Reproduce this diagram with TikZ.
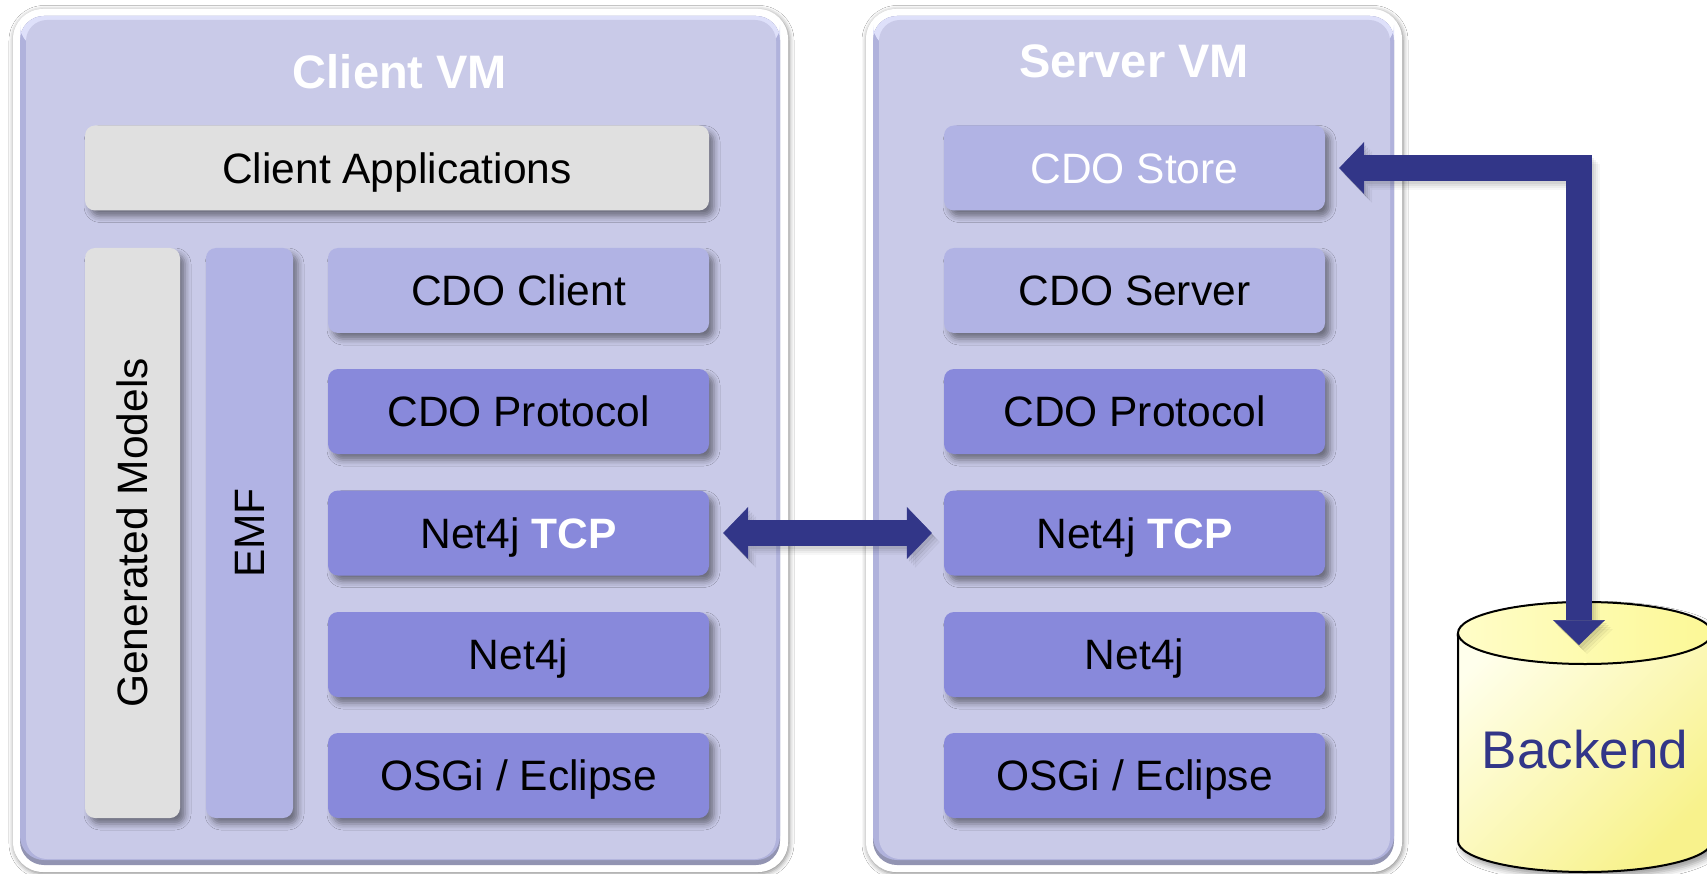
\documentclass[tikz,border=0pt]{standalone}
\usepackage{fontspec}
\setmainfont{Liberation Sans}
\usetikzlibrary{arrows.meta,shadows.blur,calc}

\definecolor{panel}{RGB}{201,202,232}
\definecolor{paneledge}{RGB}{176,178,220}
\definecolor{paneldark}{RGB}{146,148,178}
\definecolor{panelhi}{RGB}{222,224,250}
\definecolor{greybox}{RGB}{224,224,224}
\definecolor{lightbox}{RGB}{177,179,228}
\definecolor{darkbox}{RGB}{136,137,219}
\definecolor{navy}{RGB}{50,54,136}
\definecolor{dbA}{RGB}{255,255,236}
\definecolor{dbB}{RGB}{248,242,140}
\definecolor{dbtopA}{RGB}{255,253,200}
\definecolor{dbtopB}{RGB}{252,248,150}

\newcommand\boxfont{\fontsize{42.5pt}{50pt}\selectfont}
\newcommand\titlefont{\fontsize{47pt}{55pt}\selectfont\bfseries}
\newcommand\dbfont{\fontsize{53pt}{60pt}\selectfont}

\newcommand\vmpanel[4]{%
  \fill[white, rounded corners=30pt,
        blur shadow={shadow xshift=1pt,shadow yshift=-1.5pt,shadow blur radius=5pt,shadow opacity=50}]
        (#1,#2) rectangle (#3,#4);
  \fill[paneldark, rounded corners=24pt] (#1+7,#2+7) rectangle (#3-8,#4-7);
  \fill[paneledge, rounded corners=24pt] (#1+7,#2+7) rectangle (#3-8,#4-12);
  \fill[panelhi, rounded corners=24pt] (#1+7,#2+7) rectangle (#3-8,#2+40);
  \fill[panel, rounded corners=21pt] (#1+13,#2+11) rectangle (#3-12,#4-13);
}

\tikzset{
  cbox/.style={rounded corners=10pt, minimum width=381pt, minimum height=85pt,
    inner sep=0pt, text height=30.4pt, text depth=0pt, font=\boxfont,
    blur shadow={shadow xshift=5pt,shadow yshift=-6pt,shadow blur radius=6pt,shadow opacity=45}},
  greyb/.style={cbox, fill=greybox},
  lightb/.style={cbox, fill=lightbox},
  darkb/.style={cbox, fill=darkbox},
  vtext/.style={rotate=90, inner sep=0pt, text height=30.4pt, text depth=0pt, font=\boxfont},
  vmtitle/.style={anchor=base, inner sep=0pt, text=white, font=\titlefont},
  bigarrow/.style={draw=navy, line width=26pt, line join=miter,
    {Triangle[length=25pt,width=52pt,line width=0.5pt]}-{Triangle[length=25pt,width=52pt,line width=0.5pt]}},
  arrowshade/.style={draw=black, opacity=#1, line width=26pt, line join=miter,
    {Triangle[length=25pt,width=52pt,line width=0.5pt]}-{Triangle[length=25pt,width=52pt,line width=0.5pt]}}
}

\begin{document}
\begin{tikzpicture}[x=1pt,y=-1pt]
\useasboundingbox (0,0) rectangle (1707,874);
\fill[white] (0,0) rectangle (1707,874);

% panels
\vmpanel{13}{9}{788}{872}
\vmpanel{866}{9}{1402}{872}

\node[vmtitle] (ctitle) at (400,88.5) {Client VM};
\node[vmtitle] (stitle) at (1134,78) {Server VM};

% client side
\node[greyb, minimum width=624pt] (capps) at (397,168) {Client Applications};
\node[greyb, minimum width=95pt, minimum height=570pt] (gm) at (132.5,533) {};
\node[vtext] (gmtext) at (gm.center) {Generated Models};
\node[lightb, minimum width=87pt, minimum height=570pt] (emf) at (249.5,533) {};
\node[vtext] (emftext) at (emf.center) {EMF};
\node[lightb] (cclient) at (518.5,290.5) {CDO Client};
\node[darkb] (cproto) at (518.5,411.5) {CDO Protocol};
\node[darkb] (ctcp) at (518.5,533) {Net4j \textcolor{white}{\bfseries TCP}};
\node[darkb] (cnet) at (518.5,654.5) {Net4j};
\node[darkb] (cosgi) at (518.5,775.5) {OSGi / Eclipse};

% server side
\node[lightb, text=white] (store) at (1134.5,168) {CDO Store};
\node[lightb] (sserver) at (1134.5,290.5) {CDO Server};
\node[darkb] (sproto) at (1134.5,411.5) {CDO Protocol};
\node[darkb] (stcp) at (1134.5,533) {Net4j \textcolor{white}{\bfseries TCP}};
\node[darkb] (snet) at (1134.5,654.5) {Net4j};
\node[darkb] (sosgi) at (1134.5,775.5) {OSGi / Eclipse};

% backend cylinder
\path[blur shadow={shadow xshift=4pt,shadow yshift=-5pt,shadow blur radius=6pt,shadow opacity=40},
      shading=axis, top color=dbA, bottom color=dbB, shading angle=45]
  (1458,633) -- (1458,841) arc[start angle=180, end angle=0, x radius=127, y radius=31]
  -- (1712,633) arc[start angle=0, end angle=-180, x radius=127, y radius=31] -- cycle;
\draw[black, line width=2pt]
  (1458,633) -- (1458,841) arc[start angle=180, end angle=0, x radius=127, y radius=31]
  -- (1712,633);
\shade[left color=dbtopA, right color=dbtopB] (1585,633) ellipse[x radius=127, y radius=31];
\draw[black, line width=2pt] (1585,633) ellipse[x radius=127, y radius=31];
\node[anchor=base, inner sep=0pt, text=navy, font=\dbfont] (backend) at (1585,768) {Backend};
\coordinate (dbtop) at (1579,645);

% soft arrow shadows
\foreach \dx/\dy/\op in {2/3/0.06, 4/5/0.05, 6/7/0.04, 8/9/0.03}{
  \begin{scope}[transform canvas={xshift=\dx pt,yshift=-\dy pt}]
    \draw[arrowshade=\op, shorten <=14pt, shorten >=12pt] (ctcp.east) -- (stcp.west);
    \draw[arrowshade=\op, shorten >=14pt] (dbtop) |- (store.east);
  \end{scope}
}
% arrows
\draw[bigarrow, shorten <=14pt, shorten >=12pt] (ctcp.east) -- (stcp.west);
\draw[bigarrow, shorten >=14pt] (dbtop) |- (store.east);
\end{tikzpicture}
\end{document}
